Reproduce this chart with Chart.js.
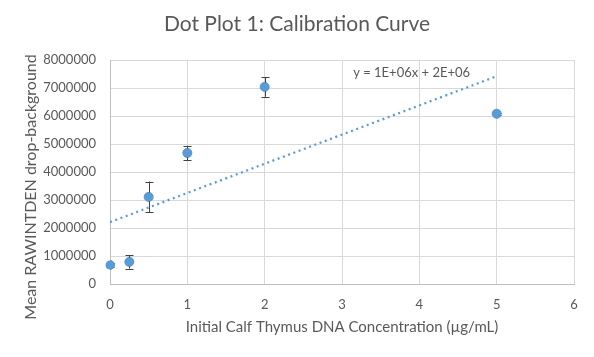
<!DOCTYPE html>
<html>
<head>
<meta charset="utf-8">
<script src="https://cdn.jsdelivr.net/npm/chart.js@4/dist/chart.umd.min.js"></script>
<style>
html,body{margin:0;padding:0;background:#fff;}
#wrap{width:594px;height:357px;position:relative;}
</style>
</head>
<body>
<div id="wrap"><canvas id="c" width="594" height="357"></canvas></div>
<script>
// ---- data ----
const concentrations = [0, 0.25, 0.5, 1, 2, 5];
const meanValues = [680000, 790000, 3110000, 4680000, 7040000, 6080000];
const errorValues = [60000, 240000, 550000, 260000, 355000, 40000];
const trendX = [0, 5];
const trendY = [2210000, 7420000];
const xTicks = [0, 1, 2, 3, 4, 5, 6];
const yTicks = [0, 1000000, 2000000, 3000000, 4000000, 5000000, 6000000, 7000000, 8000000];
const titleText = 'Dot Plot 1: Calibration Curve';
const xTitle = 'Initial Calf Thymus DNA Concentration (µg/mL)';
const yTitle = 'Mean RAWINTDEN drop-background';
const equationText = 'y = 1E+06x + 2E+06';

const FONT = 'Lato, "Open Sans", sans-serif';
const TXT = '#595959';
const BLUE = '#5B9BD5';

const points = concentrations.map((x, i) => ({x: x, y: meanValues[i], e: errorValues[i]}));
const trend = trendX.map((x, i) => ({x: x, y: trendY[i]}));

const errorBarPlugin = {
  id: 'errorBars',
  afterDatasetsDraw(chart) {
    const ctx = chart.ctx;
    const xs = chart.scales.x, ys = chart.scales.y;
    ctx.save();
    ctx.strokeStyle = '#404040';
    ctx.lineWidth = 1;
    points.forEach(p => {
      const px = Math.round(xs.getPixelForValue(p.x)) + 0.5;
      const top = ys.getPixelForValue(p.y + p.e);
      const bot = ys.getPixelForValue(p.y - p.e);
      ctx.beginPath();
      ctx.moveTo(px, top); ctx.lineTo(px, bot);
      ctx.moveTo(px - 4, Math.round(top) + 0.5); ctx.lineTo(px + 4, Math.round(top) + 0.5);
      ctx.moveTo(px - 4, Math.round(bot) + 0.5); ctx.lineTo(px + 4, Math.round(bot) + 0.5);
      ctx.stroke();
    });
    const meta = chart.getDatasetMeta(1);
    ctx.fillStyle = BLUE;
    meta.data.forEach(el => {
      ctx.beginPath();
      ctx.arc(el.x, el.y, 4.5, 0, Math.PI * 2);
      ctx.fill();
    });
    ctx.restore();
  }
};

const textPlugin = {
  id: 'extraText',
  afterDraw(chart) {
    const ctx = chart.ctx;
    const xs = chart.scales.x, ys = chart.scales.y;
    ctx.save();
    ctx.fillStyle = TXT;
    ctx.textAlign = 'center';
    ctx.textBaseline = 'middle';
    // chart title
    ctx.font = '21px ' + FONT;
    ctx.fillText(titleText, chart.width / 2, 24);
    // trendline equation
    ctx.font = '13px ' + FONT;
    ctx.fillText(equationText, xs.getPixelForValue(3.9), ys.getPixelForValue(7550000));
    // y-axis title
    ctx.translate(31, 187);
    ctx.rotate(-Math.PI / 2);
    ctx.font = '16px ' + FONT;
    ctx.fillText(yTitle, 0, 0);
    ctx.restore();
  }
};

new Chart(document.getElementById('c'), {
  type: 'scatter',
  data: {
    datasets: [
      {
        label: 'Linear trend',
        type: 'line',
        data: trend,
        borderColor: BLUE,
        borderWidth: 2.25,
        borderDash: [2, 3.6],
        borderCapStyle: 'butt',
        pointRadius: 0,
        fill: false,
        order: 2
      },
      {
        label: 'Mean',
        data: points,
        backgroundColor: BLUE,
        borderColor: BLUE,
        pointRadius: 4.5,
        pointHoverRadius: 4.5,
        order: 1
      }
    ]
  },
  options: {
    responsive: false,
    animation: false,
    devicePixelRatio: 1,
    layout: {padding: {left: 0, right: 20, top: 60, bottom: 0}},
    plugins: {
      legend: {display: false},
      tooltip: {enabled: false},
      title: {display: false}
    },
    scales: {
      x: {
        type: 'linear',
        min: 0, max: 6,
        afterBuildTicks(s) { s.ticks = xTicks.map(v => ({value: v})); },
        afterFit(s) { s.height = 73; },
        grid: {color: '#D9D9D9', drawTicks: false},
        border: {color: '#BFBFBF'},
        ticks: {color: TXT, font: {family: FONT, size: 13}, padding: 13},
        title: {display: true, text: xTitle, color: TXT, font: {family: FONT, size: 15}, padding: {top: 0, bottom: 21}}
      },
      y: {
        type: 'linear',
        min: 0, max: 8000000,
        afterBuildTicks(s) { s.ticks = yTicks.map(v => ({value: v})); },
        afterFit(s) { s.width = 110; },
        grid: {color: '#D9D9D9', drawTicks: false},
        border: {color: '#BFBFBF'},
        ticks: {color: TXT, font: {family: FONT, size: 13}, padding: 14, callback: v => String(v)},
        title: {display: false}
      }
    }
  },
  plugins: [errorBarPlugin, textPlugin]
});
</script>
</body>
</html>
